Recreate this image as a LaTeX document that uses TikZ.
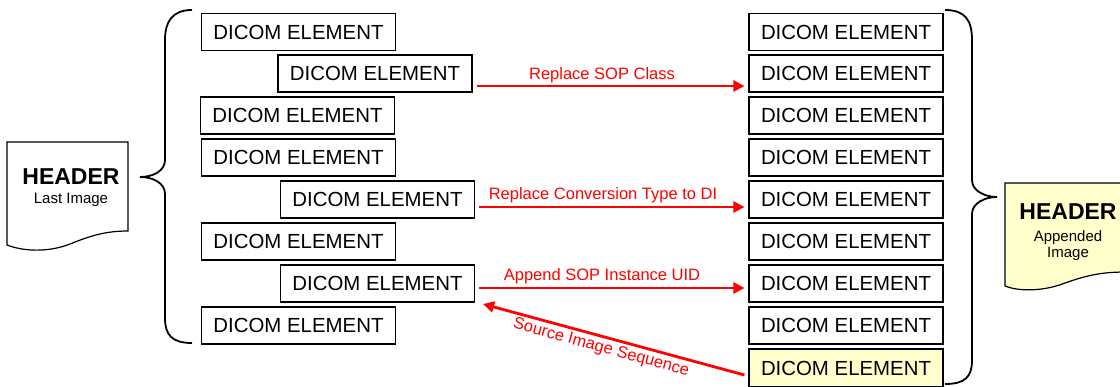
\documentclass[tikz,border=0pt]{standalone}
\usepackage{fontspec}
\setmainfont{Liberation Sans}
\usetikzlibrary{arrows.meta,calc}
\definecolor{docyellow}{HTML}{FFFFCC}
\tikzset{
  elem/.style={draw=black, line width=1.1pt, minimum width=194pt, minimum height=37pt, inner sep=0pt,
               font=\fontsize{20.4}{21}\selectfont},
  redarrow/.style={draw=red, line width=2.8pt, -{Triangle[length=11pt,width=11pt]}},
  redlabel/.style={text=red, font=\fontsize{16.5}{17}\selectfont, inner sep=0pt},
  brace/.style={draw=black, line width=1.8pt},
  doc/.style={draw=black, line width=1.2pt},
  hdr/.style={font=\fontsize{23}{24}\bfseries\selectfont, inner sep=0pt, anchor=base},
  hdrsub/.style={font=\fontsize{15}{16}\selectfont, inner sep=0pt, anchor=base},
}
\begin{document}
\begin{tikzpicture}[x=1pt,y=-1pt]
\fill[white] (0,0) rectangle (1120,387);

% left column
\node[elem] (L1) at (298.5,32)   {DICOM ELEMENT};
\node[elem] (L2) at (375,73.5)   {DICOM ELEMENT};
\node[elem] (L3) at (297.5,115.5){DICOM ELEMENT};
\node[elem] (L4) at (298.5,157.5){DICOM ELEMENT};
\node[elem] (L5) at (377.5,199.5){DICOM ELEMENT};
\node[elem] (L6) at (298.5,241.5){DICOM ELEMENT};
\node[elem] (L7) at (377.5,283.5){DICOM ELEMENT};
\node[elem] (L8) at (298.5,325.5){DICOM ELEMENT};

% right column
\node[elem] (R1) at (846,32)    {DICOM ELEMENT};
\node[elem] (R2) at (846,73.5)  {DICOM ELEMENT};
\node[elem] (R3) at (846,115.5) {DICOM ELEMENT};
\node[elem] (R4) at (846,157.5) {DICOM ELEMENT};
\node[elem] (R5) at (846,199.5) {DICOM ELEMENT};
\node[elem] (R6) at (846,241.5) {DICOM ELEMENT};
\node[elem] (R7) at (846,283.5) {DICOM ELEMENT};
\node[elem] (R8) at (846,325.5) {DICOM ELEMENT};
\node[elem, fill=docyellow, minimum height=38pt] (R9) at (846,368) {DICOM ELEMENT};

% left header document
\path[doc, fill=white] (7,142) -- (128,142) -- (128,231)
  .. controls (105,231) and (90,236) .. (70,244)
  .. controls (50,252) and (25,252) .. (7,245) -- cycle;
\node[hdr] (HL) at (71,185) {HEADER};
\node[hdrsub] (HLs) at (71,204) {Last Image};

% right header document (cut by the picture edge)
\begin{scope}
\clip (0,0) rectangle (1120,387);
\path[doc, fill=docyellow] (1005,183) -- (1126,183) -- (1126,272)
  .. controls (1100,272) and (1085,276) .. (1065,283)
  .. controls (1045,291) and (1020,292) .. (1005,286) -- cycle;
\node[hdr] (HR) at (1068,220) {HEADER};
\node[hdrsub] (HRs1) at (1068,242) {Appended};
\node[hdrsub] (HRs2) at (1068,258) {Image};
\end{scope}

% braces
\path[brace] (192,10) .. controls (172,10) and (165,22) .. (165,40) -- (165,160)
  .. controls (165,171) and (153,177) .. (140,177)
  .. controls (153,177) and (165,183) .. (165,194) -- (165,318)
  .. controls (165,335) and (172,343) .. (192,343);
\path[brace] (945,10) .. controls (965,10) and (972,20) .. (972,40) -- (972,180)
  .. controls (972,191) and (985,197) .. (997,197)
  .. controls (985,197) and (972,203) .. (972,214) -- (972,360)
  .. controls (972,377) and (965,384) .. (945,384);

% red arrows
\draw[redarrow] ($(L2.east |- 0,86)+(4,0)$) -- ($(R2.west |- 0,86)+(-4,0)$);
\node[redlabel] (T2) at (602,75) {Replace SOP Class};
\draw[redarrow] ($(L5.east |- 0,207)+(4,0)$) -- ($(R5.west |- 0,207)+(-4,0)$);
\node[redlabel] (T5) at (603,195) {Replace Conversion Type to DI};
\draw[redarrow] ($(L7.east |- 0,288)+(4,0)$) -- ($(R7.west |- 0,288)+(-4,0)$);
\node[redlabel] (T7) at (602,276) {Append SOP Instance UID};
\draw[redarrow] ($(R9.west)+(-4,7)$) -- ($(L7.south east)+(8,1.5)$);
\node[redlabel, rotate=-15.3] (T9) at (601,348) {Source Image Sequence};

\pgfresetboundingbox
\path[use as bounding box] (0,0) rectangle (1120,387);
\end{tikzpicture}
\end{document}
